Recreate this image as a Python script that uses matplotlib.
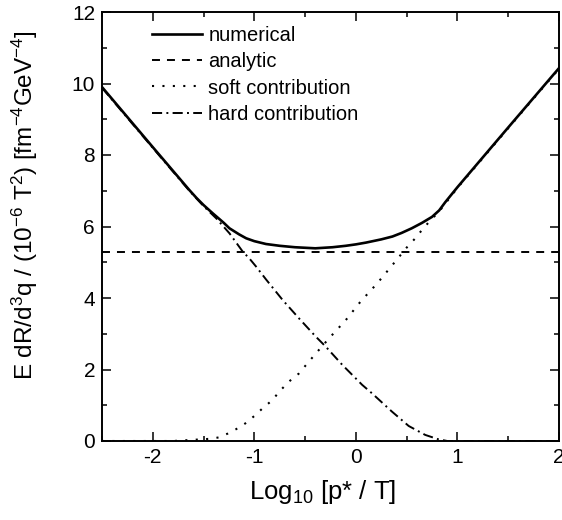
import matplotlib
matplotlib.use("Agg")
import matplotlib.pyplot as plt
from matplotlib.ticker import MultipleLocator

plt.rcParams['font.family'] = ['Liberation Sans', 'DejaVu Sans']
plt.rcParams['mathtext.fontset'] = 'custom'
plt.rcParams['mathtext.rm'] = 'Liberation Sans'
plt.rcParams['mathtext.it'] = 'Liberation Sans'
plt.rcParams['mathtext.default'] = 'regular'
plt.rcParams['axes.unicode_minus'] = False

# numerical
x_num = [-2.5, -2.0, -1.64, -1.57, -1.5, -1.41, -1.3, -1.245, -1.15, -1.08, -1.0, -0.885, -0.75,
         -0.6, -0.4, -0.23, -0.1, 0.0, 0.1, 0.25, 0.36, 0.45, 0.55, 0.65, 0.75, 0.82,
         0.88, 1.0, 1.5, 2.0]
y_num = [9.90, 8.22, 7.02, 6.80, 6.60, 6.37, 6.10, 5.95, 5.78, 5.67, 5.59, 5.51, 5.46,
         5.42, 5.39, 5.42, 5.46, 5.50, 5.55, 5.64, 5.72, 5.82, 5.95, 6.10, 6.27, 6.45,
         6.68, 7.10, 8.77, 10.43]

# analytic
x_ana = [-2.5, 2.0]
y_ana = [5.30, 5.30]

# soft contribution
x_soft = [-2.5, -1.8, -1.62, -1.44, -1.35, -1.26, -1.18, -1.09, -1.0, -0.92, -0.82, -0.755,
          -0.66, -0.56, -0.49, -0.4, -0.265, -0.1, 0.046, 0.21, 0.356, 0.5, 0.585, 0.65,
          0.73, 0.82, 0.88, 1.0, 1.5, 2.0]
y_soft = [0.0, 0.0, 0.03, 0.06, 0.10, 0.21, 0.33, 0.49, 0.70, 0.91, 1.15, 1.38,
          1.66, 1.89, 2.13, 2.43, 2.87, 3.38, 3.90, 4.41, 4.91, 5.41, 5.67, 5.90,
          6.16, 6.42, 6.64, 7.08, 8.75, 10.41]

# hard contribution
x_hard = [-2.5, -2.0, -1.64, -1.5, -1.376, -1.245, -1.115, -1.05, -0.983, -0.885, -0.72,
          -0.56, -0.395, -0.297, -0.134, 0.062, 0.16, 0.356, 0.52, 0.683, 0.81, 0.9, 2.0]
y_hard = [9.88, 8.20, 7.00, 6.57, 6.23, 5.81, 5.30, 5.11, 4.88, 4.52, 3.94,
          3.43, 2.92, 2.64, 2.13, 1.57, 1.33, 0.82, 0.42, 0.17, 0.05, 0.0, 0.0]

labels = ["numerical", "analytic", "soft contribution", "hard contribution"]

fig = plt.figure(figsize=(5.62, 5.20), dpi=100)
ax = fig.add_axes([102/562, 1-441/520, (559-102)/562, (441-12)/520])

ax.plot(x_hard, y_hard, color='black', lw=1.4, linestyle=(0, (5.2, 2.2, 1.0, 2.2)), label=labels[3])
ax.plot(x_soft, y_soft, color='black', lw=1.5, linestyle=(0, (1.0, 4.0)), label=labels[2])
ax.plot(x_ana, y_ana, color='black', lw=1.4, linestyle=(0, (4.1, 3.6)), label=labels[1])
ax.plot(x_num, y_num, color='black', lw=1.9, linestyle='-', label=labels[0])

ax.set_xlim(-2.5, 2.0)
ax.set_ylim(0, 12)
ax.xaxis.set_major_locator(MultipleLocator(1))
ax.xaxis.set_minor_locator(MultipleLocator(0.5))
ax.yaxis.set_major_locator(MultipleLocator(2))
ax.yaxis.set_minor_locator(MultipleLocator(1))
ax.tick_params(which='both', direction='in', top=True, right=True, width=1.1, labelsize=15, pad=5)
ax.tick_params(which='major', length=6.5)
ax.tick_params(which='minor', length=3.6)
for s in ax.spines.values():
    s.set_linewidth(1.4)

ax.set_xlabel("Log$_{10}$ [p* / T]", fontsize=18.5)
ax.set_ylabel("E dR/d$^3$q / (10$^{-6}$ T$^2$) [fm$^{-4}$GeV$^{-4}$]", fontsize=17.5)
ax.xaxis.set_label_coords(0.4825, -0.087)
ax.yaxis.set_label_coords(-0.135, 0.55)

h, l = ax.get_legend_handles_labels()
order = [3, 2, 1, 0]
leg = ax.legend([h[i] for i in order], [l[i] for i in order], loc='upper left',
                bbox_to_anchor=(152/562, 1-26/520), bbox_transform=fig.transFigure,
                frameon=False, fontsize=14.5, handlelength=2.5, handletextpad=0.3,
                labelspacing=0.36, borderpad=0, borderaxespad=0)

fig.savefig("out.png", dpi=100)
